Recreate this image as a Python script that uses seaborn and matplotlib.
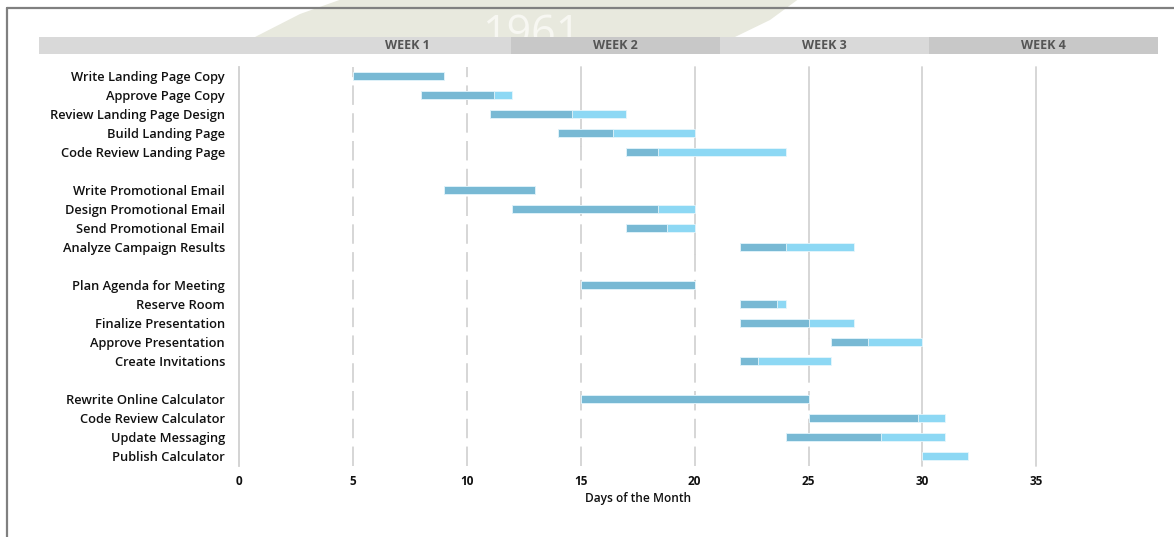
import matplotlib
matplotlib.use("Agg")
import matplotlib.pyplot as plt
from matplotlib.patches import Rectangle, Polygon
from matplotlib.lines import Line2D
import numpy as np
import pandas as pd
import seaborn as sns

# ---- schedule data -------------------------------------------------------
groups = [
    ["Write Landing Page Copy", "Approve Page Copy", "Review Landing Page Design",
     "Build Landing Page", "Code Review Landing Page"],
    ["Write Promotional Email", "Design Promotional Email", "Send Promotional Email",
     "Analyze Campaign Results"],
    ["Plan Agenda for Meeting", "Reserve Room", "Finalize Presentation",
     "Approve Presentation", "Create Invitations"],
    ["Rewrite Online Calculator", "Code Review Calculator", "Update Messaging",
     "Publish Calculator"],
]
start_day = [5, 8, 11, 14, 17,
             9, 12, 17, 22,
             15, 22, 22, 26, 22,
             15, 25, 24, 30]
duration_days = [4, 4, 6, 6, 7,
                 4, 8, 3, 5,
                 5, 2, 5, 4, 4,
                 10, 6, 7, 2]
percent_done = [100, 80, 60, 40, 20,
                100, 80, 60, 40,
                100, 80, 60, 40, 20,
                100, 80, 60, 0]
week_labels = ["WEEK 1", "WEEK 2", "WEEK 3", "WEEK 4"]
x_ticks = [0, 5, 10, 15, 20, 25, 30, 35]

tasks = [t for g in groups for t in g]
df = pd.DataFrame({"task": tasks, "start": start_day,
                   "duration": duration_days, "pct": percent_done})
df["done"] = df["duration"] * df["pct"] / 100.0

# category order with blank spacer rows between the groups
order = []
for i, g in enumerate(groups):
    if i:
        order.append(" " * i)
    order.extend(g)

# ---- figure --------------------------------------------------------------
W, H = 1174, 537
sns.set_theme(style="white")
plt.rcParams["font.family"] = ["Open Sans", "DejaVu Sans"]
plt.rcParams["lines.scale_dashes"] = False

fig = plt.figure(figsize=(W / 100, H / 100), dpi=100)
fig.patch.set_facecolor("white")


def fx(px):
    return px / W


def fy(py):
    return 1 - py / H


# faint emblem in the page background
fig.add_artist(Polygon([(fx(255), fy(37)), (fx(300), fy(14)), (fx(345), fy(-2)),
                        (fx(800), fy(-2)), (fx(770), fy(20)), (fx(735), fy(37))],
                       closed=True, transform=fig.transFigure,
                       facecolor="#e8e9de", edgecolor="none", zorder=0))
fig.text(fx(531), fy(12), "1961", transform=fig.transFigure, ha="center", va="top",
         fontsize=31, color="#f7f7f2", zorder=1)

# page frame
fig.add_artist(Line2D([fx(6.5), fx(6.5)], [fy(540), fy(7.5)], transform=fig.transFigure,
                      color="#808080", lw=1.6, zorder=5))
fig.add_artist(Line2D([fx(6.5), fx(1180)], [fy(7.5), fy(7.5)], transform=fig.transFigure,
                      color="#808080", lw=1.6, zorder=5))

# week header strip
band_cells = [(39, 303, "#d9d9d9"), (303, 511, "#d9d9d9"), (511, 720, "#c8c8c8"),
              (720, 929, "#d9d9d9"), (929, 1158, "#c8c8c8")]
for x0, x1, c in band_cells:
    fig.add_artist(Rectangle((fx(x0), fy(54)), fx(x1) - fx(x0), fy(37) - fy(54),
                             transform=fig.transFigure, facecolor=c, edgecolor="none",
                             zorder=2))
for (x0, x1, _), lab in zip(band_cells[1:], week_labels):
    fig.text(fx((x0 + x1) / 2), fy(45.5), lab, transform=fig.transFigure,
             ha="center", va="center", fontsize=9, fontweight="bold",
             color="#555555", zorder=3)

# ---- gantt axes ----------------------------------------------------------
ax = fig.add_axes([fx(239), fy(465.5), fx(239 + 35 * 22.78) - fx(239),
                   fy(66.5) - fy(465.5)])
ax.set_facecolor("none")

dark = "#78b9d4"
light = "#8dd8f4"
bar_w = 0.44

n_before = len(ax.patches)
sns.barplot(data=df, x="duration", y="task", order=order, color=light,
            width=bar_w, saturation=1, orient="h", ax=ax, zorder=3,
            edgecolor="#e6f6fc", linewidth=0.6)
full_bars = ax.patches[n_before:]
n_before = len(ax.patches)
sns.barplot(data=df, x="done", y="task", order=order, color=dark,
            width=bar_w, saturation=1, orient="h", ax=ax, zorder=4,
            edgecolor="#e6f6fc", linewidth=0.6)
done_bars = ax.patches[n_before:]

# shift each bar so it begins on its task's start day
start_of = dict(zip(df["task"], df["start"]))
for p in list(full_bars) + list(done_bars):
    row = int(round(p.get_y() + p.get_height() / 2))
    p.set_x(start_of[order[row]])
    if p.get_width() == 0:
        p.set_visible(False)

ax.set_xlim(0, 35)
ax.set_ylim(len(order) - 0.5, -0.5)

# vertical gridlines: solid at the top, broken further down
solid_frac = {5: 0.0, 10: 0.0, 15: 0.20, 20: 0.47, 25: 0.68, 30: 1.0, 35: 1.0}
grid_c = "#d3d3d3"
for v in x_ticks[1:]:
    f = solid_frac[v]
    if f > 0:
        ax.axvline(v, ymin=1 - f, ymax=1, color=grid_c, lw=1.3, zorder=1, clip_on=False)
    if f < 1:
        ax.axvline(v, ymin=0, ymax=1 - f, color=grid_c, lw=1.3, zorder=1,
                   ls=(0, (14, 6)), clip_on=False)

for s in ["top", "right", "bottom"]:
    ax.spines[s].set_visible(False)
ax.spines["left"].set_color("#d0d0d0")
ax.spines["left"].set_linewidth(1.3)

ax.set_xticks(x_ticks)
ax.set_xticklabels([str(t) for t in x_ticks], fontsize=8.5, fontweight="bold",
                   color="#111111")
ax.tick_params(axis="x", length=0, pad=7)
ax.tick_params(axis="y", length=0, pad=10)
for lab in ax.get_yticklabels():
    lab.set_fontsize(9.3)
    lab.set_fontweight("semibold")
    lab.set_color("#111111")
ax.set_ylabel("")
ax.set_xlabel("Days of the Month", fontsize=8.6, fontweight="semibold",
              color="#111111", labelpad=3)
ax.grid(False)

fig.savefig("out.png", dpi=100, facecolor="white")
